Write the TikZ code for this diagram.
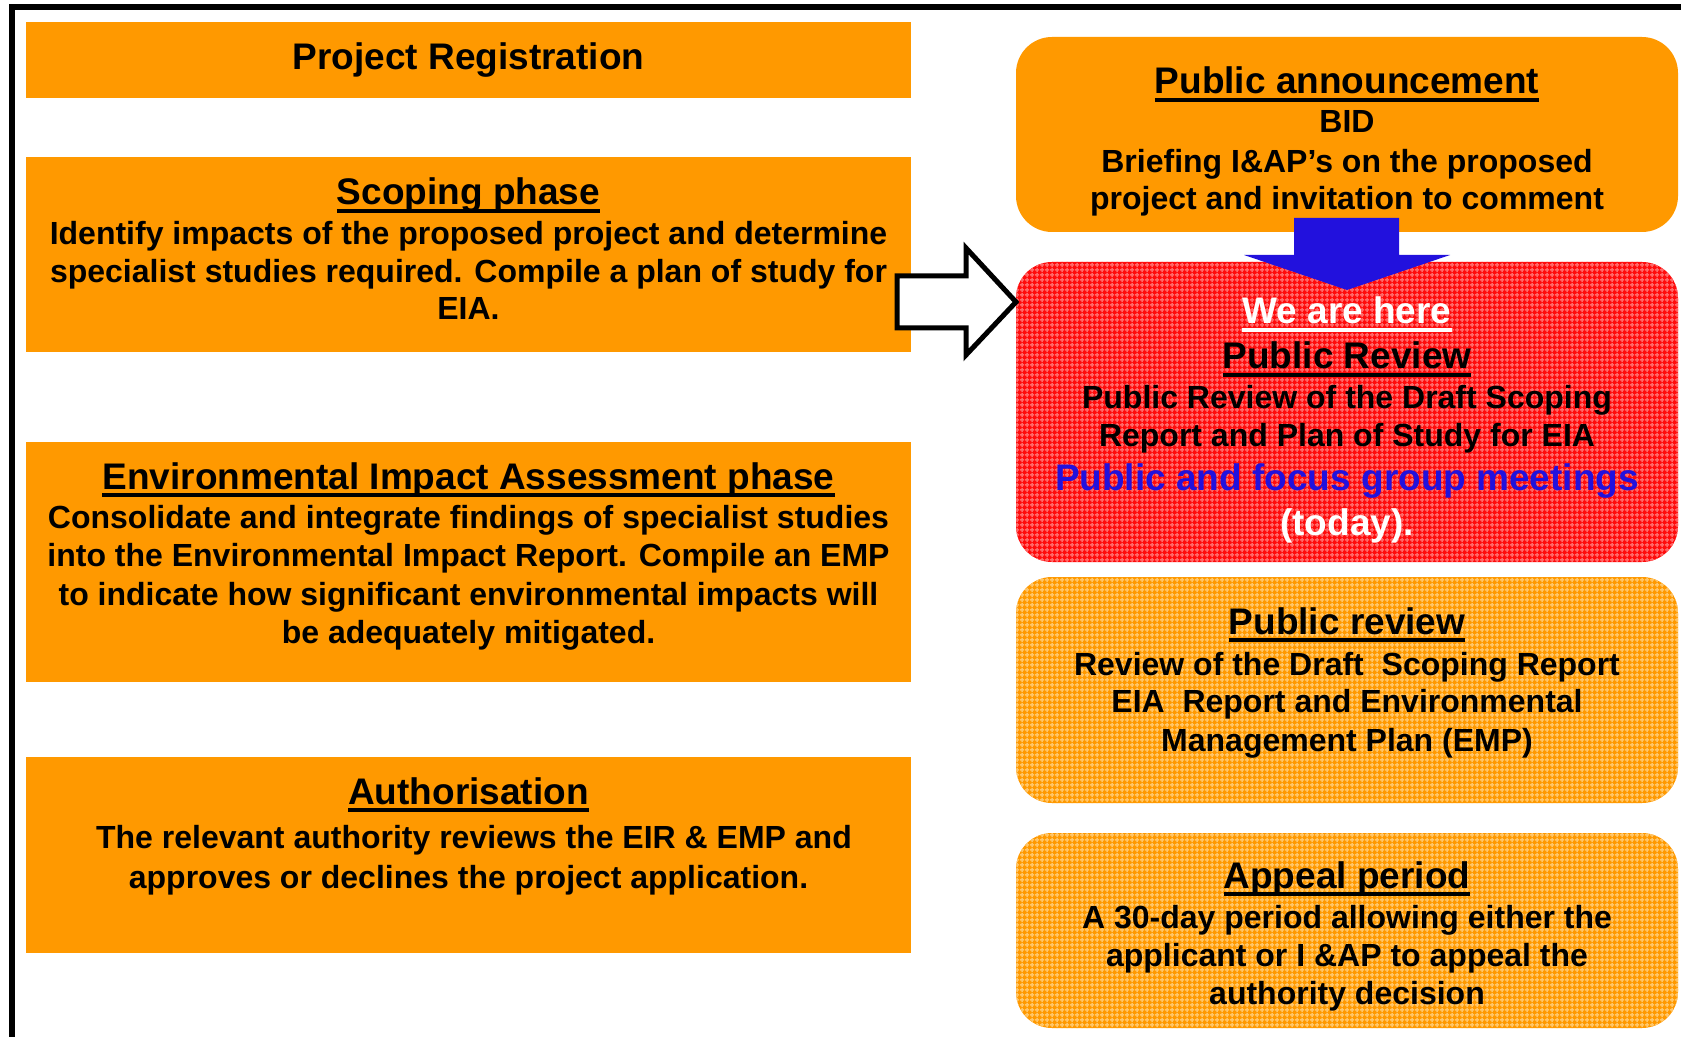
\documentclass[tikz,border=0pt]{standalone}
\usepackage{fontspec}
\setmainfont{Liberation Sans}
\usetikzlibrary{patterns.meta}
\definecolor{orng}{RGB}{255,153,0}
\definecolor{orngl}{RGB}{255,198,105}
\definecolor{redb}{RGB}{255,12,12}
\definecolor{redl}{RGB}{255,105,105}
\definecolor{blu}{RGB}{34,17,221}
\newcommand{\myul}[1]{\setbox0\hbox{#1}\rlap{\rule[-4.2pt]{\wd0}{2pt}}\box0}
\tikzdeclarepattern{
  name=fgrid,
  type=uncolored,
  bottom left={(0pt,0pt)},
  top right={(2.5pt,2.5pt)},
  tile size={(2.5pt,2.5pt)},
  code={
    \draw[line width=0.9pt] (0pt,1.25pt) -- (2.5pt,1.25pt) (1.25pt,0pt) -- (1.25pt,2.5pt);
  }
}
\tikzset{
  lbox/.style={fill=orng, inner sep=0pt, outer sep=0pt, minimum width=442.5pt},
  rbox/.style={fill=orng, inner sep=0pt, outer sep=0pt, minimum width=331pt, rounded corners=18pt},
  pbox/.style={rbox, postaction={pattern=fgrid, pattern color=orngl}},
  redbox/.style={rbox, fill=redb, postaction={pattern=fgrid, pattern color=redl}},
  ttl/.style={font=\fontsize{18.5}{22}\selectfont\bfseries, inner sep=0pt, anchor=base},
  bdy/.style={font=\fontsize{16}{19}\selectfont\bfseries, inner sep=0pt, anchor=base},
}
\begin{document}
\begin{tikzpicture}[x=0.5pt,y=-0.5pt]
\useasboundingbox (0,0) rectangle (1681,1037);
\fill[white] (0,0) rectangle (1681,1037);
% outer frame
\draw[line width=3pt] (12,1045) -- (12,7.5) -- (1690,7.5);

% left boxes
\node[lbox, minimum height=38pt] (reg) at (468.5,60) {};
\node[lbox, minimum height=97.5pt] (scope) at (468.5,254.5) {};
\node[lbox, minimum height=120pt] (eia) at (468.5,562) {};
\node[lbox, minimum height=98pt] (auth) at (468.5,855) {};

% right boxes
\node[rbox, minimum height=97.5pt] (ann) at (1347,134.5) {};
\node[redbox, minimum height=150pt] (rev) at (1347,412) {};
\node[pbox, minimum height=113pt] (prev) at (1347,690) {};
\node[pbox, minimum height=97.5pt] (appeal) at (1347,930.5) {};

% left texts
\node[ttl] (t1) at (468.5,70) {Project Registration};

\node[ttl] (s0) at (468.5,205) {\myul{Scoping phase}};
\node[bdy] (s1) at (468.5,245) {Identify impacts of the proposed project and determine};
\node[bdy] (s2) at (468.5,283) {specialist studies required. Compile a plan of study for};
\node[bdy] (s3) at (468.5,320) {EIA.};

\node[ttl] (e0) at (468.5,489) {\myul{Environmental Impact Assessment phase}};
\node[bdy] (e1) at (468.5,528) {Consolidate and integrate findings of specialist studies};
\node[bdy] (e2) at (468.5,566) {into the Environmental Impact Report. Compile an EMP};
\node[bdy] (e3) at (468.5,605) {to indicate how significant environmental impacts will};
\node[bdy] (e4) at (468.5,643) {be adequately mitigated.};

\node[ttl] (a0) at (468.5,804) {\myul{Authorisation}};
\node[bdy] (a1) at (474,848) {The relevant authority reviews the EIR \& EMP and};
\node[bdy] (a2) at (468.5,888) {approves or declines the project application.};

% right texts
\node[ttl] (n0) at (1347,94) {\myul{Public announcement}};
\node[bdy] (n1) at (1347,133) {BID};
\node[bdy] (n2) at (1347,173) {Briefing I\&AP’s on the proposed};
\node[bdy] (n3) at (1347,210) {project and invitation to comment};

\node[ttl, text=white] (r0) at (1347,324) {\myul{We are here}};
\node[ttl] (r1) at (1347,369) {\myul{Public Review}};
\node[bdy] (r2) at (1347,409) {Public Review of the Draft Scoping};
\node[bdy] (r3) at (1347,447) {Report and Plan of Study for EIA};
\node[ttl, text=blu] (r4) at (1347,490) {Public and focus group meetings};
\node[ttl, text=white] (r5) at (1347,535) {(today).};

\node[ttl] (p0) at (1347,634) {\myul{Public review}};
\node[bdy] (p1) at (1347,675) {Review of the Draft\ \ Scoping Report};
\node[bdy] (p2) at (1347,712) {EIA\ \ Report and Environmental};
\node[bdy] (p3) at (1347,751) {Management Plan (EMP)};

\node[ttl] (q0) at (1347,888) {\myul{Appeal period}};
\node[bdy] (q1) at (1347,928) {A 30-day period allowing either the};
\node[bdy] (q2) at (1347,966) {applicant or I \&AP to appeal the};
\node[bdy] (q3) at (1347,1004) {authority decision};

% outline arrow from scoping phase to public review
\draw[line width=2.5pt, fill=white, line join=miter]
  (897,276) -- (966,276) -- (966,248) -- (rev.west |- 0,302) -- (966,355) -- (966,328) -- (897,328) -- cycle;

% blue arrow from announcement to review
\fill[blu] (1294,218) -- (1399,218) -- (1399,255) -- (1450,255) -- (1347,290) -- (1244,255) -- (1294,255) -- cycle;
\end{tikzpicture}
\end{document}
